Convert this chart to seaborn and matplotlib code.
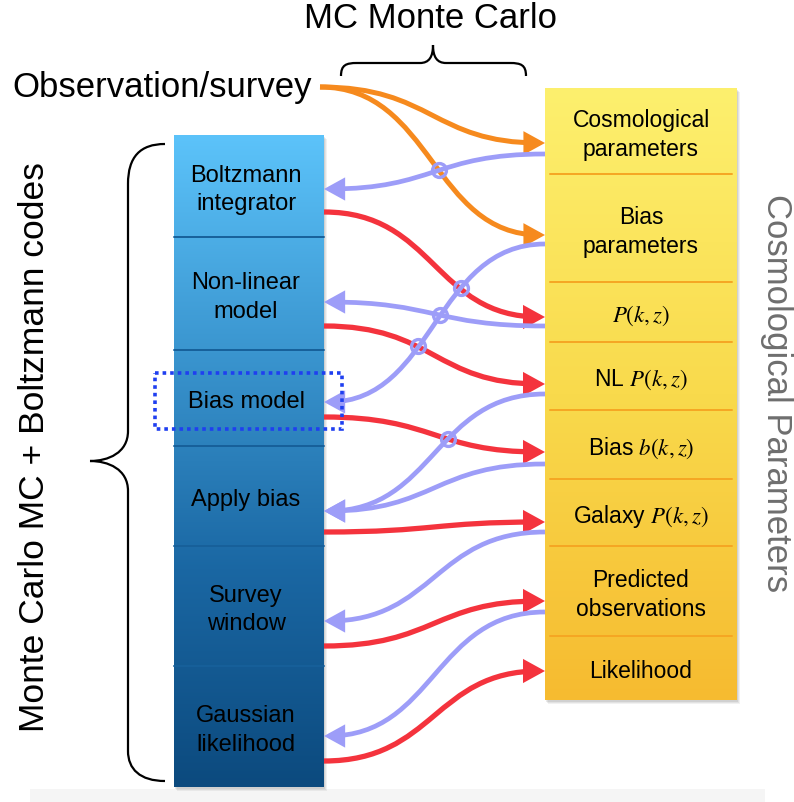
import numpy as np
import matplotlib
matplotlib.use("Agg")
import matplotlib.pyplot as plt
import seaborn as sns
from matplotlib.path import Path
from matplotlib.patches import FancyArrowPatch, PathPatch, Rectangle

# Boxes: labels and the y of each row divider (pixels from the top)
left_labels = ["Boltzmann\nintegrator", "Non-linear\nmodel", "Bias model", "Apply bias",
               "Survey\nwindow", "Gaussian\nlikelihood"]
left_edges = [136, 238, 351, 447, 547, 667, 788]
right_labels = ["Cosmological\nparameters", "Bias\nparameters", "$P(k,z)$", "NL $P(k,z)$",
                "Bias $b(k,z)$", "Galaxy $P(k,z)$", "Predicted\nobservations", "Likelihood"]
right_edges = [89, 175, 283, 343, 411, 480, 547, 637, 701]

# Links: (y on left box, y on right box)
orange_ends = [144, 236]
red_links = [(213, 318), (327, 385), (418, 453), (533, 523), (647, 602), (762, 672)]
blue_links = [(190, 155), (303, 327), (403, 245), (512, 395), (512, 465), (622, 533), (737, 613)]

RED, ORANGE, BLUE = "#f4333d", "#f68a1e", "#9d9df8"
LX0, LX1 = 174, 324
RX0, RX1 = 545, 737
OBS = (320, 88)

sns.set_theme(style="white")
plt.rcParams["font.family"] = ["Liberation Sans", "DejaVu Sans"]
plt.rcParams["mathtext.fontset"] = "stix"

fig = plt.figure(figsize=(7.94, 8.03), dpi=100)
ax = fig.add_axes([0, 0, 1, 1])
ax.axis("off")


def gradient_box(x0, x1, edges, colors, line_color, inset):
    y0, y1 = edges[0], edges[-1]
    # soft drop shadow
    for i, a in enumerate([0.12, 0.10, 0.08]):
        ax.add_patch(Rectangle((x0 + 1 + i, y0 + 2 + i), x1 - x0, y1 - y0,
                               color="0.35", alpha=a, lw=0, zorder=0.5))
    cmap = sns.blend_palette(colors, as_cmap=True)
    grad = np.linspace(0, 1, 256).reshape(-1, 1)
    ax.imshow(grad, cmap=cmap, extent=(x0, x1, y1, y0), origin="upper",
              aspect="auto", zorder=1, interpolation="bicubic")
    for y in edges[1:-1]:
        ax.plot([x0 + inset, x1 - inset], [y, y], color=line_color, lw=1.4, zorder=1.2)


gradient_box(LX0, LX1, left_edges, ["#5cc3fa", "#3a95cf", "#1a67a3", "#0c4a7e"], "#17609a", 0)
gradient_box(RX0, RX1, right_edges, ["#fdf06e", "#f9da4c", "#f6bb30"], "#f5a623", 5)

for lab, a, b in zip(left_labels, left_edges[:-1], left_edges[1:]):
    ax.text(246, (a + b) / 2 + 3, lab, ha="center", va="center", fontsize=17,
            linespacing=1.4, color="black", zorder=4)
for lab, a, b in zip(right_labels, right_edges[:-1], right_edges[1:]):
    ax.text(641, (a + b) / 2 + 3, lab, ha="center", va="center", fontsize=16.5,
            linespacing=1.3, color="black", zorder=4)


def bez_path(p0, p3, k=0.5):
    dx = (p3[0] - p0[0]) * k
    verts = [p0, (p0[0] + dx, p0[1]), (p3[0] - dx, p3[1]), p3]
    return Path(verts, [Path.MOVETO, Path.CURVE4, Path.CURVE4, Path.CURVE4])


def bez_pts(p0, p3, k=0.5, n=600):
    dx = (p3[0] - p0[0]) * k
    P = np.array([p0, (p0[0] + dx, p0[1]), (p3[0] - dx, p3[1]), p3], float)
    t = np.linspace(0, 1, n)[:, None]
    return ((1 - t) ** 3 * P[0] + 3 * (1 - t) ** 2 * t * P[1]
            + 3 * (1 - t) * t ** 2 * P[2] + t ** 3 * P[3])


curves = []


def link(p0, p3, color, lw):
    arr = FancyArrowPatch(path=bez_path(p0, p3), arrowstyle="-|>,head_length=10,head_width=5.5",
                          mutation_scale=1, lw=lw, color=color, zorder=2,
                          shrinkA=0, shrinkB=0, joinstyle="miter", capstyle="butt")
    ax.add_patch(arr)
    curves.append(bez_pts(p0, p3))


for ye in orange_ends:
    link(OBS, (RX0, ye), ORANGE, 3.6)
for yl, yr in red_links:
    link((LX1, yl), (RX0, yr), RED, 3.8)
for yl, yr in blue_links:
    link((RX0, yr), (LX1, yl), BLUE, 3.4)

# little hops where two links cross
xs = np.linspace(345, 525, 2000)
for i in range(len(curves)):
    for j in range(i + 1, len(curves)):
        a, b = curves[i], curves[j]
        oa, ob = np.argsort(a[:, 0]), np.argsort(b[:, 0])
        ya = np.interp(xs, a[oa, 0], a[oa, 1], left=np.nan, right=np.nan)
        yb = np.interp(xs, b[ob, 0], b[ob, 1], left=np.nan, right=np.nan)
        d = ya - yb
        idx = np.where(np.sign(d[:-1]) * np.sign(d[1:]) < 0)[0]
        for k in idx:
            ax.plot(xs[k], ya[k], "o", ms=10, mfc="none", mec=BLUE, mew=2.4, zorder=3)

# dotted highlight round "Bias model"
ax.add_patch(Rectangle((155, 374), 187, 56, fill=False, ec="#1f3ff0", lw=2.6,
                       ls=(0, (1, 1.1)), zorder=5))

# braces
top_brace = Path([(341, 77), (341, 66), (346, 64), (357, 64), (420, 64),
                  (429, 64), (433, 58), (433, 46), (433, 58), (437, 64), (446, 64),
                  (510, 64), (521, 64), (526, 66), (526, 77)],
                 [Path.MOVETO, Path.CURVE4, Path.CURVE4, Path.CURVE4, Path.LINETO,
                  Path.CURVE4, Path.CURVE4, Path.CURVE4, Path.CURVE4, Path.CURVE4, Path.CURVE4,
                  Path.LINETO, Path.CURVE4, Path.CURVE4, Path.CURVE4])
left_brace = Path([(165, 145), (140, 145), (128, 158), (128, 185), (128, 432),
                   (128, 454), (108, 462), (90, 462), (108, 462), (128, 470), (128, 492),
                   (128, 752), (128, 770), (140, 782), (165, 782)],
                  [Path.MOVETO, Path.CURVE4, Path.CURVE4, Path.CURVE4, Path.LINETO,
                   Path.CURVE4, Path.CURVE4, Path.CURVE4, Path.CURVE4, Path.CURVE4, Path.CURVE4,
                   Path.LINETO, Path.CURVE4, Path.CURVE4, Path.CURVE4])
for p in (top_brace, left_brace):
    ax.add_patch(PathPatch(p, fill=False, ec="black", lw=1.6, zorder=3))

ax.text(12, 88, "Observation/survey", ha="left", va="center", fontsize=25, color="black")
ax.text(431, 18, "MC Monte Carlo", ha="center", va="center", fontsize=25, color="black")
ax.text(35, 447, "Monte Carlo MC + Boltzmann codes", ha="center", va="center",
        fontsize=25.5, rotation=90, color="black")
ax.text(776, 393, "Cosmological Parameters", ha="center", va="center",
        fontsize=25, rotation=-90, color="#6e6e6e")

ax.add_patch(Rectangle((30, 790), 735, 13, color="#f5f5f5", lw=0, zorder=0.2))

ax.set_xlim(0, 794)
ax.set_ylim(803, 0)
fig.savefig("out.png", dpi=100)
